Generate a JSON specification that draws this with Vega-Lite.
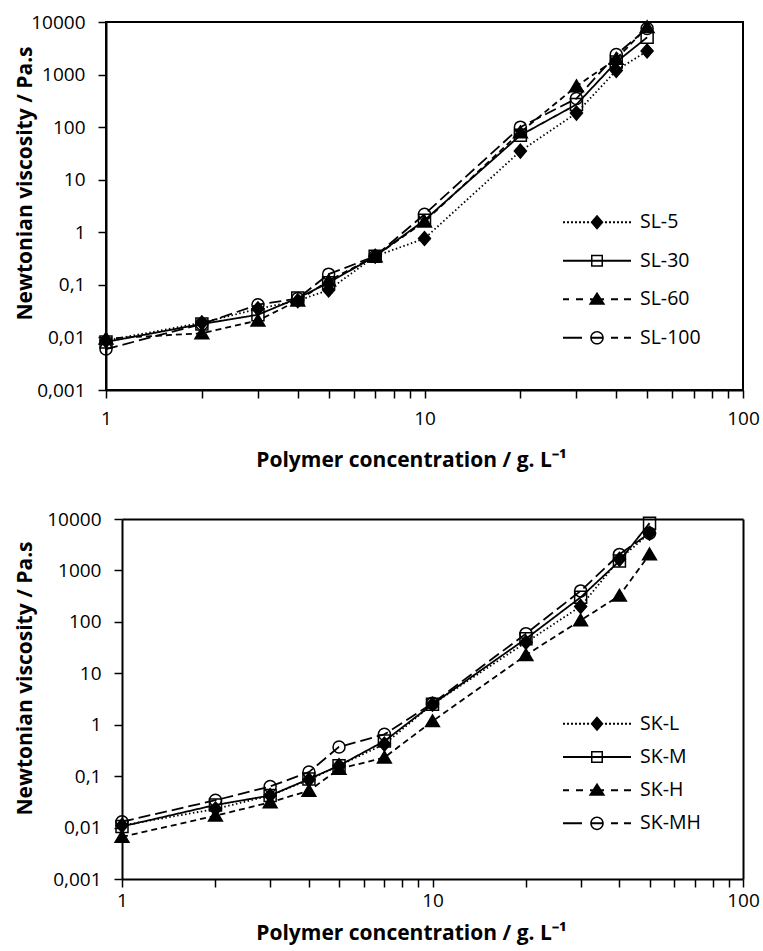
{
  "$schema": "https://vega.github.io/schema/vega-lite/v6.json",
  "padding": {"left": 13, "top": 12, "right": 4, "bottom": 8},
  "background": "white",
  "datasets": {
    "sl": [
      {"series": "SL-5", "c": 1, "v": 0.0087}, {"series": "SL-5", "c": 2, "v": 0.019}, {"series": "SL-5", "c": 3, "v": 0.035}, {"series": "SL-5", "c": 4, "v": 0.05}, {"series": "SL-5", "c": 5, "v": 0.08}, {"series": "SL-5", "c": 7, "v": 0.35}, {"series": "SL-5", "c": 10, "v": 0.76}, {"series": "SL-5", "c": 20, "v": 35}, {"series": "SL-5", "c": 30, "v": 185}, {"series": "SL-5", "c": 40, "v": 1200}, {"series": "SL-5", "c": 50, "v": 2800},
      {"series": "SL-30", "c": 1, "v": 0.0082}, {"series": "SL-30", "c": 2, "v": 0.018}, {"series": "SL-30", "c": 3, "v": 0.027}, {"series": "SL-30", "c": 4, "v": 0.056}, {"series": "SL-30", "c": 5, "v": 0.11}, {"series": "SL-30", "c": 7, "v": 0.35}, {"series": "SL-30", "c": 10, "v": 1.7}, {"series": "SL-30", "c": 20, "v": 70}, {"series": "SL-30", "c": 30, "v": 270}, {"series": "SL-30", "c": 40, "v": 1730}, {"series": "SL-30", "c": 50, "v": 5100},
      {"series": "SL-60", "c": 1, "v": 0.0095}, {"series": "SL-60", "c": 2, "v": 0.012}, {"series": "SL-60", "c": 3, "v": 0.021}, {"series": "SL-60", "c": 4, "v": 0.05}, {"series": "SL-60", "c": 5, "v": 0.12}, {"series": "SL-60", "c": 7, "v": 0.35}, {"series": "SL-60", "c": 10, "v": 1.6}, {"series": "SL-60", "c": 20, "v": 80}, {"series": "SL-60", "c": 30, "v": 600}, {"series": "SL-60", "c": 40, "v": 1990}, {"series": "SL-60", "c": 50, "v": 8000},
      {"series": "SL-100", "c": 1, "v": 0.006}, {"series": "SL-100", "c": 2, "v": 0.018}, {"series": "SL-100", "c": 3, "v": 0.042}, {"series": "SL-100", "c": 4, "v": 0.055}, {"series": "SL-100", "c": 5, "v": 0.16}, {"series": "SL-100", "c": 7, "v": 0.35}, {"series": "SL-100", "c": 10, "v": 2.2}, {"series": "SL-100", "c": 20, "v": 100}, {"series": "SL-100", "c": 30, "v": 350}, {"series": "SL-100", "c": 40, "v": 2400}, {"series": "SL-100", "c": 50, "v": 7500}
    ],
    "sk": [
      {"series": "SK-L", "c": 1, "v": 0.011}, {"series": "SK-L", "c": 2, "v": 0.023}, {"series": "SK-L", "c": 3, "v": 0.042}, {"series": "SK-L", "c": 4, "v": 0.085}, {"series": "SK-L", "c": 5, "v": 0.16}, {"series": "SK-L", "c": 7, "v": 0.42}, {"series": "SK-L", "c": 10, "v": 2.5}, {"series": "SK-L", "c": 20, "v": 40}, {"series": "SK-L", "c": 30, "v": 200}, {"series": "SK-L", "c": 40, "v": 1650}, {"series": "SK-L", "c": 50, "v": 5300},
      {"series": "SK-M", "c": 1, "v": 0.0105}, {"series": "SK-M", "c": 2, "v": 0.0275}, {"series": "SK-M", "c": 3, "v": 0.042}, {"series": "SK-M", "c": 4, "v": 0.088}, {"series": "SK-M", "c": 5, "v": 0.16}, {"series": "SK-M", "c": 7, "v": 0.48}, {"series": "SK-M", "c": 10, "v": 2.5}, {"series": "SK-M", "c": 20, "v": 47}, {"series": "SK-M", "c": 30, "v": 300}, {"series": "SK-M", "c": 40, "v": 1520}, {"series": "SK-M", "c": 50, "v": 8300},
      {"series": "SK-H", "c": 1, "v": 0.0066}, {"series": "SK-H", "c": 2, "v": 0.017}, {"series": "SK-H", "c": 3, "v": 0.031}, {"series": "SK-H", "c": 4, "v": 0.052}, {"series": "SK-H", "c": 5, "v": 0.138}, {"series": "SK-H", "c": 7, "v": 0.23}, {"series": "SK-H", "c": 10, "v": 1.17}, {"series": "SK-H", "c": 20, "v": 22.6}, {"series": "SK-H", "c": 30, "v": 107}, {"series": "SK-H", "c": 40, "v": 323}, {"series": "SK-H", "c": 50, "v": 2050},
      {"series": "SK-MH", "c": 1, "v": 0.013}, {"series": "SK-MH", "c": 2, "v": 0.034}, {"series": "SK-MH", "c": 3, "v": 0.063}, {"series": "SK-MH", "c": 4, "v": 0.12}, {"series": "SK-MH", "c": 5, "v": 0.37}, {"series": "SK-MH", "c": 7, "v": 0.65}, {"series": "SK-MH", "c": 10, "v": 2.6}, {"series": "SK-MH", "c": 20, "v": 59}, {"series": "SK-MH", "c": 30, "v": 400}, {"series": "SK-MH", "c": 40, "v": 2050}, {"series": "SK-MH", "c": 50, "v": 5300}
    ]
  },
  "spacing": 39,
  "resolve": {"scale": {"shape": "independent"}, "legend": {"shape": "independent"}},
  "vconcat": [
    {
      "width": 637,
      "height": 368,
      "data": {"name": "sl"},
      "resolve": {"scale": {"shape": "independent"}, "legend": {"shape": "independent"}},
      "encoding": {
        "x": {
          "field": "c", "type": "quantitative",
          "scale": {"type": "log", "domain": [1, 100]},
          "axis": {
            "title": "Polymer concentration / g. L⁻¹",
            "titleX": 305,
            "titleY": 70,
            "titleBaseline": "middle",
            "values": [1, 2, 3, 4, 5, 6, 7, 8, 9, 10, 20, 30, 40, 50, 60, 70, 80, 90, 100],
            "labelExpr": "datum.value == 1 || datum.value == 10 || datum.value == 100 ? '' + datum.value : ''",
            "tickSize": 8,
            "labelPadding": 11,
            "encode": {"ticks": {"y": {"value": -4}, "y2": {"condition": {"test": "datum.value == 1 || datum.value == 10 || datum.value == 100", "value": 8}, "value": 0}}}
          }
        },
        "y": {
          "field": "v", "type": "quantitative",
          "scale": {"type": "log", "domain": [0.001, 10000]},
          "axis": {
            "title": "Newtonian viscosity / Pa.s",
            "titleX": -81,
            "titleY": 161,
            "titleBaseline": "middle",
            "values": [0.001, 0.01, 0.1, 1, 10, 100, 1000, 10000],
            "labelExpr": "replace(format(datum.value, '~g'), '.', ',')",
            "tickSize": 8,
            "labelPadding": 13
          }
        }
      },
      "layer": [
        {
          "mark": {"type": "line", "color": "black", "strokeWidth": 1.8},
          "encoding": {
            "detail": {"field": "series", "type": "nominal"},
            "strokeDash": {
              "condition": [
                {"test": "datum.series == 'SL-5'", "value": [1.5, 2.5]},
                {"test": "datum.series == 'SL-60'", "value": [6, 4]},
                {"test": "datum.series == 'SL-100'", "value": [12, 5]}
              ],
              "value": [1, 0]
            }
          }
        },
        {
          "mark": {"type": "point", "filled": true, "stroke": "black", "strokeWidth": 1.5, "size": 144, "opacity": 1},
          "encoding": {
            "fill": {
              "condition": {"test": "datum.series == 'SL-5' || datum.series == 'SL-60'", "value": "black"},
              "value": "transparent"
            },
            "shape": {
              "field": "series", "type": "nominal",
              "scale": {"domain": ["SL-5", "SL-30", "SL-60", "SL-100"], "range": ["M0,-1.15L1,0L0,1.15L-1,0Z", "square", "M0,-1.05L1.15,0.9L-1.15,0.9Z", "circle"]},
              "legend": null
            }
          }
        },
        {
          "transform": [{"filter": "false"}],
          "mark": {"type": "point", "filled": true, "color": "black", "opacity": 1, "strokeWidth": 0},
          "encoding": {
            "shape": {
              "field": "series", "type": "nominal",
              "scale": {
                "domain": ["SL-5", "SL-30", "SL-60", "SL-100"],
                "range": [
                  "M-34,-1h2v2h-2zM-30,-1h2v2h-2zM-26,-1h2v2h-2zM-22,-1h2v2h-2zM-18,-1h2v2h-2zM-14,-1h2v2h-2zM-10,-1h2v2h-2zM8,-1h2v2h-2zM12,-1h2v2h-2zM16,-1h2v2h-2zM20,-1h2v2h-2zM24,-1h2v2h-2zM28,-1h2v2h-2zM32,-1h2v2h-2zM0,-7.5L6.5,0L0,7.5L-6.5,0Z",
                  "M-34,-1H34V1H-34ZM-6,-6L6,-6L6,6L-6,6ZM-4.5,-4.5L-4.5,4.5L4.5,4.5L4.5,-4.5Z",
                  "M-34,-1H-28V1H-34ZM-21,-1H-14V1H-21ZM-7,-1H7V1H-7ZM14,-1H21V1H14ZM27,-1H34V1H27ZM0,-7.5L8.3,5.5L-8.3,5.5Z",
                  "M-34,-1H-15V1H-34ZM-6,-1H6V1H-6ZM14,-1H21V1H14ZM27,-1H34V1H27ZM-6.8,0A6.8,6.8,0,1,1,6.8,0A6.8,6.8,0,1,1,-6.8,0ZM-5.3,0A5.3,5.3,0,1,0,5.3,0A5.3,5.3,0,1,0,-5.3,0Z"
                ]
              },
              "legend": {
                "title": null,
                "orient": "none",
                "legendX": 457,
                "legendY": 190.5,
                "padding": 0,
                "symbolSize": 4,
                "symbolStrokeWidth": 0,
                "symbolFillColor": "black",
                "symbolOpacity": 1,
                "symbolOffset": 24.25,
                "labelOffset": 33.25,
                "rowPadding": 17.5
              }
            }
          }
        }
      ]
    },
    {
      "width": 637,
      "height": 360,
      "view": {"stroke": null},
      "data": {"name": "sk"},
      "resolve": {"scale": {"shape": "independent"}, "legend": {"shape": "independent"}},
      "encoding": {
        "x": {
          "field": "c", "type": "quantitative",
          "scale": {"type": "log", "domain": [1, 100], "range": [16, 637]},
          "axis": {
            "title": "Polymer concentration / g. L⁻¹",
            "titleX": 305,
            "titleY": 54,
            "titleBaseline": "middle",
            "values": [1, 2, 3, 4, 5, 6, 7, 8, 9, 10, 20, 30, 40, 50, 60, 70, 80, 90, 100],
            "labelExpr": "datum.value == 1 || datum.value == 10 || datum.value == 100 ? '' + datum.value : ''",
            "tickSize": 8,
            "labelPadding": 4,
            "grid": true,
            "gridColor": "black",
            "gridWidth": 2,
            "gridOpacity": {"condition": {"test": "datum.value == 100", "value": 1}, "value": 0},
            "encode": {"ticks": {"y": {"value": -4}, "y2": {"condition": {"test": "datum.value == 1 || datum.value == 10 || datum.value == 100", "value": 8}, "value": 0}}}
          }
        },
        "y": {
          "field": "v", "type": "quantitative",
          "scale": {"type": "log", "domain": [0.001, 10000]},
          "axis": {
            "title": "Newtonian viscosity / Pa.s",
            "offset": -16,
            "titleX": -97,
            "titleY": 159,
            "titleBaseline": "middle",
            "values": [0.001, 0.01, 0.1, 1, 10, 100, 1000, 10000],
            "labelExpr": "replace(format(datum.value, '~g'), '.', ',')",
            "tickSize": 8,
            "labelPadding": 13,
            "grid": true,
            "gridColor": "black",
            "gridWidth": 2,
            "gridOpacity": {"condition": {"test": "datum.value == 10000", "value": 1}, "value": 0}
          }
        }
      },
      "layer": [
        {
          "mark": {"type": "line", "color": "black", "strokeWidth": 1.8},
          "encoding": {
            "detail": {"field": "series", "type": "nominal"},
            "strokeDash": {
              "condition": [
                {"test": "datum.series == 'SK-L'", "value": [1.5, 2.5]},
                {"test": "datum.series == 'SK-H'", "value": [6, 4]},
                {"test": "datum.series == 'SK-MH'", "value": [12, 5]}
              ],
              "value": [1, 0]
            }
          }
        },
        {
          "mark": {"type": "point", "filled": true, "stroke": "black", "strokeWidth": 1.5, "size": 144, "opacity": 1},
          "encoding": {
            "fill": {
              "condition": {"test": "datum.series == 'SK-L' || datum.series == 'SK-H'", "value": "black"},
              "value": "transparent"
            },
            "shape": {
              "field": "series", "type": "nominal",
              "scale": {"domain": ["SK-L", "SK-M", "SK-H", "SK-MH"], "range": ["M0,-1.15L1,0L0,1.15L-1,0Z", "square", "M0,-1.05L1.15,0.9L-1.15,0.9Z", "circle"]},
              "legend": null
            }
          }
        },
        {
          "transform": [{"filter": "false"}],
          "mark": {"type": "point", "filled": true, "color": "black", "opacity": 1, "strokeWidth": 0},
          "encoding": {
            "shape": {
              "field": "series", "type": "nominal",
              "scale": {
                "domain": ["SK-L", "SK-M", "SK-H", "SK-MH"],
                "range": [
                  "M-34,-1h2v2h-2zM-30,-1h2v2h-2zM-26,-1h2v2h-2zM-22,-1h2v2h-2zM-18,-1h2v2h-2zM-14,-1h2v2h-2zM-10,-1h2v2h-2zM8,-1h2v2h-2zM12,-1h2v2h-2zM16,-1h2v2h-2zM20,-1h2v2h-2zM24,-1h2v2h-2zM28,-1h2v2h-2zM32,-1h2v2h-2zM0,-7.5L6.5,0L0,7.5L-6.5,0Z",
                  "M-34,-1H34V1H-34ZM-6,-6L6,-6L6,6L-6,6ZM-4.5,-4.5L-4.5,4.5L4.5,4.5L4.5,-4.5Z",
                  "M-34,-1H-28V1H-34ZM-21,-1H-14V1H-21ZM-7,-1H7V1H-7ZM14,-1H21V1H14ZM27,-1H34V1H27ZM0,-7.5L8.3,5.5L-8.3,5.5Z",
                  "M-34,-1H-15V1H-34ZM-6,-1H6V1H-6ZM14,-1H21V1H14ZM27,-1H34V1H27ZM-6.8,0A6.8,6.8,0,1,1,6.8,0A6.8,6.8,0,1,1,-6.8,0ZM-5.3,0A5.3,5.3,0,1,0,5.3,0A5.3,5.3,0,1,0,-5.3,0Z"
                ]
              },
              "legend": {
                "title": null,
                "orient": "none",
                "legendX": 457,
                "legendY": 195,
                "padding": 0,
                "symbolSize": 4,
                "symbolStrokeWidth": 0,
                "symbolFillColor": "black",
                "symbolOpacity": 1,
                "symbolOffset": 24.25,
                "labelOffset": 33.25,
                "rowPadding": 12.2
              }
            }
          }
        }
      ]
    }
  ],
  "config": {
    "font": "Open Sans",
    "view": {"stroke": "black", "strokeWidth": 2},
    "axis": {
      "grid": false,
      "labelFont": "Open Sans",
      "labelFontSize": 19,
      "labelColor": "black",
      "labelFlush": false,
      "labelOverlap": false,
      "titleFont": "Open Sans",
      "titleFontSize": 21,
      "titleFontWeight": "bold",
      "titleColor": "black",
      "domainColor": "black",
      "domainWidth": 2,
      "tickColor": "black",
      "tickWidth": 1.5
    },
    "legend": {
      "labelFont": "Open Sans",
      "labelFontSize": 19.5,
      "labelColor": "black"
    }
  }
}
